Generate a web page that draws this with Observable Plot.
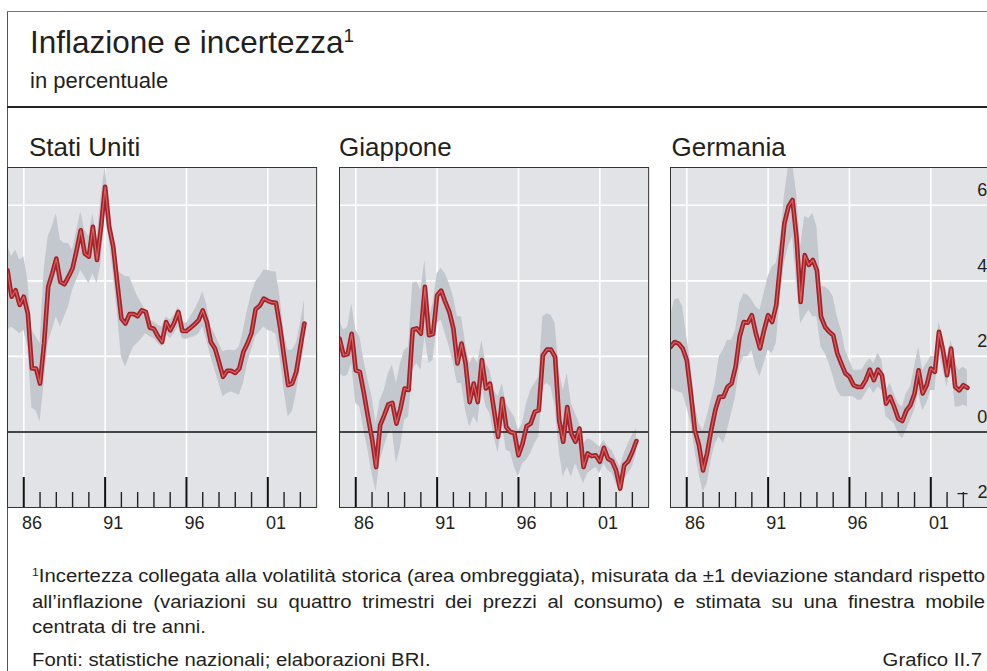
<!DOCTYPE html>
<html>
<head>
<meta charset="utf-8">
<script src="https://cdn.jsdelivr.net/npm/d3@7"></script>
<script src="https://cdn.jsdelivr.net/npm/@observablehq/plot@0.6"></script>
<style>
  html, body { margin:0; padding:0; background:#fff; }
  body { width:987px; height:671px; overflow:hidden; position:relative;
         font-family:"Liberation Sans", Arial, Helvetica, sans-serif; color:#231f20; }
  .abs { position:absolute; white-space:nowrap; line-height:1; }
  .ln { position:absolute; }
  #notes { position:absolute; left:32px; top:564px; transform-origin:0 0; font-size:17.5px; line-height:25.5px; }
  #notes div { white-space:nowrap; }
  #notes .j { text-align:justify; text-align-last:justify; white-space:normal; }
  #src { position:absolute; left:32px; top:648px; transform-origin:0 0; font-size:17.5px; line-height:25.5px;
         display:flex; justify-content:space-between; }
  sup.fn { font-size:0.6em; vertical-align:0.6em; line-height:0; }
</style>
</head>
<body>
<div class="ln" style="left:6.5px;top:11px;width:1px;height:700px;background:#555;"></div>
<div class="ln" style="left:6.5px;top:11px;width:1000px;height:1px;background:#777;"></div>
<div class="ln" style="left:6.5px;top:106px;width:1000px;height:2px;background:#222;"></div>

<div class="abs" style="left:30px;top:27.3px;font-size:31.5px;">Inflazione e incertezza<sup class="fn">1</sup></div>
<div class="abs" style="left:30px;top:69.5px;font-size:22px;">in percentuale</div>

<div id="panels"></div>

<div id="notes">
  <div class="j"><sup class="fn">1</sup>Incertezza collegata alla volatilità storica (area ombreggiata), misurata da ±1 deviazione standard rispetto</div>
  <div class="j">all’inflazione (variazioni su quattro trimestri dei prezzi al consumo) e stimata su una finestra mobile</div>
  <div>centrata di tre anni.</div>
</div>
<div id="src"><span>Fonti: statistiche nazionali; elaborazioni BRI.</span><span>Grafico II.7</span></div>

<script>
// ---------- data (quarterly, first quarter 1985 Q1) ----------
const startYear = 1985;
const nQuarters = 74;

const usInfl = [4.28,3.58,3.75,3.36,3.58,3.13,1.68,1.68,1.28,2.34,
  3.84,4.19,4.59,3.97,3.91,4.11,4.33,4.81,5.34,4.72,
  4.64,5.43,4.55,5.43,6.49,5.43,4.90,3.93,3.00,2.87,
  3.12,3.12,3.06,3.22,3.18,2.76,2.73,2.53,2.38,2.91,
  2.69,2.89,3.18,2.67,2.67,2.76,2.85,2.96,3.22,2.91,
  2.38,2.21,1.85,1.46,1.62,1.62,1.56,1.68,2.12,2.34,
  2.62,3.25,3.34,3.53,3.47,3.43,3.42,2.78,1.99,1.24,
  1.28,1.59,2.25,2.87];
const usHigh = [4.94,4.64,4.81,4.55,4.64,4.02,2.69,2.52,2.34,4.28,
  5.17,5.43,5.78,5.08,4.99,4.99,4.81,5.34,5.83,5.34,
  5.17,5.78,5.08,6.23,7.02,5.96,5.08,4.28,4.19,4.11,
  4.11,3.84,3.58,3.40,3.22,2.96,2.91,2.83,2.78,3.05,
  2.96,3.09,3.31,2.91,2.87,3.05,3.22,3.44,3.71,3.36,
  2.78,2.60,2.34,2.12,2.16,2.16,2.15,2.25,2.69,3.22,
  3.66,3.97,4.11,4.28,4.28,4.24,4.24,3.58,2.60,2.16,
  2.16,2.34,2.87,3.49];
const usLow = [2.69,2.78,2.69,2.60,2.69,2.25,0.62,0.57,0.26,1.28,
  2.34,2.69,3.05,2.78,3.05,3.31,3.75,4.02,4.28,4.11,
  3.93,4.19,3.93,4.46,5.78,5.08,4.19,3.13,1.99,1.72,
  1.99,2.25,2.34,2.47,2.60,2.52,2.47,2.34,2.25,2.60,
  2.47,2.60,2.78,2.47,2.45,2.50,2.52,2.59,2.78,2.43,
  1.99,1.63,1.28,0.93,1.02,1.06,1.02,0.97,1.28,1.81,
  2.16,2.52,2.65,2.78,2.69,2.65,2.59,1.99,1.10,0.40,
  0.53,1.02,1.72,2.25];

const jpInfl = [2.47,2.03,2.06,2.60,1.63,1.59,1.02,0.40,-0.18,-0.93,
  0.18,0.44,0.73,0.77,0.22,0.62,1.15,1.11,2.71,2.74,
  2.60,3.84,2.56,2.59,3.62,3.74,3.44,3.18,2.74,1.81,
  2.34,1.81,0.79,1.28,0.79,1.90,1.15,1.28,0.57,-0.13,
  0.88,0.13,0.00,-0.03,-0.62,-0.31,0.15,0.22,0.53,0.57,
  2.03,2.18,2.18,1.99,0.31,-0.26,0.66,-0.04,-0.26,0.09,
  -0.93,-0.57,-0.64,-0.62,-0.79,-0.42,-0.71,-0.77,-1.02,-1.50,
  -0.88,-0.77,-0.53,-0.24];
const jpHigh = [2.96,2.69,2.78,3.40,2.69,2.52,1.90,1.37,0.93,0.22,
  0.84,1.10,1.55,1.77,1.28,1.81,2.16,2.25,3.93,3.97,
  3.75,4.55,3.05,3.40,4.19,4.33,4.19,3.93,3.58,3.05,
  3.05,2.34,1.81,1.99,1.81,2.43,1.81,1.63,1.10,0.93,
  1.28,0.75,0.57,0.40,0.04,0.22,0.75,1.10,1.28,1.46,
  3.05,3.13,3.09,2.87,1.63,1.10,1.55,0.75,0.49,0.22,
  -0.31,-0.18,-0.22,-0.31,-0.40,-0.22,-0.40,-0.49,-0.71,-0.93,
  -0.57,-0.31,-0.09,0.09];
const jpLow = [1.55,1.46,1.50,1.81,0.75,0.66,0.04,-0.49,-1.10,-1.59,
  -0.75,-0.40,-0.04,0.04,-0.84,-0.40,0.31,0.40,1.63,1.81,
  1.63,2.52,1.81,1.90,2.87,2.96,2.60,2.25,1.81,1.28,
  1.28,0.57,0.13,0.40,0.22,1.19,0.66,0.49,-0.13,-0.57,
  0.22,-0.49,-0.53,-0.93,-1.19,-0.84,-0.75,-0.57,-0.31,-0.13,
  1.19,1.28,1.19,0.66,-0.49,-1.19,-0.93,-1.19,-0.84,-1.10,
  -1.37,-1.10,-1.02,-0.93,-1.10,-0.84,-1.02,-1.10,-1.37,-1.63,
  -1.28,-1.10,-0.93,-0.57];

const deInfl = [2.25,2.38,2.34,2.21,1.90,1.02,0.04,-0.35,-1.02,-0.57,
  0.04,0.57,0.93,0.93,1.19,1.28,1.72,2.52,2.91,2.89,
  3.09,2.60,2.21,2.69,3.09,2.91,3.36,4.46,5.52,5.96,
  6.14,5.12,3.44,4.68,4.42,4.55,4.28,3.05,2.78,2.65,
  2.56,2.08,1.81,1.55,1.46,1.24,1.19,1.19,1.37,1.65,
  1.37,1.65,1.50,0.75,0.93,0.66,0.35,0.29,0.57,0.71,
  1.02,1.63,1.02,1.24,1.68,1.59,2.65,2.16,1.50,2.21,
  1.19,1.10,1.24,1.17];
const deHigh = [3.05,3.49,3.53,3.31,2.52,1.81,0.75,0.22,0.04,0.40,
  0.84,1.28,1.99,2.16,2.43,2.43,2.69,3.40,3.66,3.62,
  3.49,3.31,3.22,3.66,4.11,4.37,4.46,5.08,6.23,7.02,
  7.11,6.31,4.90,5.70,5.65,5.78,5.43,3.84,3.84,3.75,
  3.58,3.05,2.69,2.16,1.90,1.63,1.63,1.63,1.81,1.94,
  1.81,2.08,1.90,1.10,1.28,1.02,0.75,0.66,1.02,1.19,
  1.72,2.25,1.63,1.81,1.99,1.99,2.91,2.52,1.99,2.43,
  1.81,1.63,1.72,1.63];
const deLow = [1.19,1.10,1.06,1.02,0.66,0.22,-0.49,-1.10,-1.59,-1.37,
  -0.75,-0.31,-0.13,-0.31,0.04,0.49,0.93,1.72,1.99,1.99,
  2.16,1.72,1.46,1.81,2.16,2.08,2.34,3.58,4.46,4.90,
  5.17,3.93,2.87,3.05,3.22,3.05,3.05,2.25,2.08,1.81,
  1.46,1.10,0.93,0.93,0.93,0.93,0.84,0.84,1.02,1.19,
  1.02,1.19,1.10,0.40,0.31,0.22,-0.04,-0.18,0.04,0.31,
  0.57,1.02,0.57,0.75,1.10,1.10,2.16,1.63,1.19,1.81,
  0.66,0.66,0.71,0.66];

const panelTitles = ["Stati Uniti", "Giappone", "Germania"];
const majorYears = [1986, 1991, 1996, 2001];
const xTickLabels = ["86", "91", "96", "01"];
const minorYears = [1987,1988,1989,1990,1992,1993,1994,1995,1997,1998,1999,2000,2002,2003];
const yGrid = [2, 4, 6];
const yTicks = [6, 4, 2, 0, -2];
const yTickLabels = ["6", "4", "2", "0", "–  2"];

// ---------- style ----------
const BG = "#e1e3e6", BAND = "#c3c8ce", RED_DARK = "#a3212a", RED_LIGHT = "#d9625d";
const PXY = 16.27, PLOT_H = 340, TOP = 164.7;
const M = {top:2, right:2, bottom:34, left:2};

const quarters = d3.range(nQuarters).map(i => startYear + i / 4);

function panel(title, infl, low, high, plotLeft, xMax, withY) {
  const data = quarters.map((q, i) => ({q, v: infl[i], lo: low[i], hi: high[i]}));
  const plotW = (xMax - 1985) * PXY;
  const marks = [
    Plot.frame({fill: BG, stroke: null}),
    Plot.ruleY(yGrid, {stroke: "#fff", strokeWidth: 1.6}),
    Plot.ruleX(majorYears, {stroke: "#fff", strokeWidth: 1.6}),
    Plot.areaY(data, {x: "q", y1: "lo", y2: "hi", fill: BAND, clip: true}),
    Plot.ruleY([0], {stroke: "#111", strokeWidth: 1.4}),
    Plot.line(data, {x: "q", y: "v", stroke: RED_DARK, strokeWidth: 4.6, clip: true}),
    Plot.line(data, {x: "q", y: "v", stroke: RED_LIGHT, strokeWidth: 1.2, clip: true}),
    Plot.ruleX(minorYears, {stroke: "#222", strokeWidth: 1.4, insetTop: PLOT_H - 15}),
    Plot.ruleX(majorYears, {stroke: "#111", strokeWidth: 2, insetTop: PLOT_H - 30}),
    Plot.axisX(majorYears.map(y => y + 0.5), {anchor: "bottom", tickSize: 0, tickPadding: 9, label: null,
      tickFormat: d => xTickLabels[majorYears.indexOf(Math.floor(d))]}),
    Plot.frame({stroke: "#333", strokeWidth: 1})
  ];
  if (withY) {
    marks.push(Plot.axisY(yTicks, {anchor: "right", tickSize: 0, tickPadding: 0, dx: -8.5, dy: -15,
      label: null, textAnchor: "end", tickFormat: d => yTickLabels[yTicks.indexOf(d)]}));
  }
  const svg = Plot.plot({
    width: plotW + M.left + M.right,
    height: PLOT_H + M.top + M.bottom,
    marginTop: M.top, marginRight: M.right, marginBottom: M.bottom, marginLeft: M.left,
    x: {domain: [1985, xMax], axis: null, label: null},
    y: {domain: [-2, 7], axis: null, label: null},
    style: {background: "transparent", fontFamily: '"Liberation Sans", Arial, sans-serif',
            fontSize: "18px", color: "#231f20", overflow: "visible"},
    marks
  });
  svg.style.position = "absolute";
  svg.style.left = (plotLeft - M.left) + "px";
  svg.style.top = (TOP) + "px";
  svg.style.maxWidth = "none";
  document.getElementById("panels").appendChild(svg);

  const t = document.createElement("div");
  t.className = "abs";
  t.style.top = "134px";
  t.style.fontSize = "26px";
  t.textContent = title;
  document.getElementById("panels").appendChild(t);
  return t;
}

const t1 = panel(panelTitles[0], usInfl, usLow, usHigh, 6.7, 2004, false);
t1.style.left = "29px";
const t2 = panel(panelTitles[1], jpInfl, jpLow, jpHigh, 338.5, 2004, false);
t2.style.left = "339px";
const t3 = panel(panelTitles[2], deInfl, deLow, deHigh, 669.7, 2005, true);
t3.style.left = "671.5px";

// ---------- footnote fitting ----------
const notes = document.getElementById("notes");
const probe = document.createElement("span");
probe.style.cssText = "position:absolute;visibility:hidden;white-space:nowrap;font-size:17.5px;";
probe.innerHTML = notes.children[0].innerHTML;
document.body.appendChild(probe);
const natural = probe.getBoundingClientRect().width;
probe.remove();
const target = 953;
const s = target / natural;
notes.style.width = (target / s) + "px";
notes.style.transform = `scaleX(${s})`;
const src = document.getElementById("src");
src.style.width = (950 / s) + "px";
src.style.transform = `scaleX(${s})`;
</script>
</body>
</html>
